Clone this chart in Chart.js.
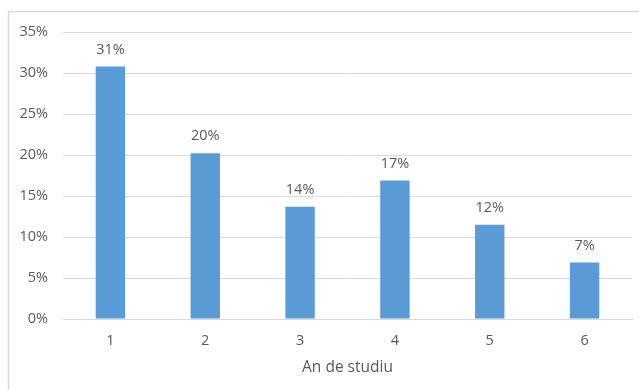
<!DOCTYPE html>
<html>
<head>
<meta charset="utf-8">
<script src="https://cdn.jsdelivr.net/npm/chart.js@4"></script>
<style>
  html, body { margin: 0; padding: 0; background: #fff; }
  #wrap { width: 639px; height: 390px; position: relative; }
</style>
</head>
<body>
<div id="wrap"><canvas id="c" width="639" height="390"></canvas></div>
<script>
const categories = ["1", "2", "3", "4", "5", "6"];
const values = [30.8, 20.2, 13.7, 16.9, 11.5, 6.9];
const valueLabels = ["31%", "20%", "14%", "17%", "12%", "7%"];
const yTicks = [0, 5, 10, 15, 20, 25, 30, 35];
const axisTitle = "An de studiu";

const FONT = "'Open Sans', sans-serif";
const TEXT = "#595959";
const GRID = "#D9D9D9";

const frame = {
  id: "frame",
  beforeDraw(chart) {
    const ctx = chart.ctx;
    ctx.save();
    ctx.strokeStyle = GRID;
    ctx.lineWidth = 1.5;
    ctx.beginPath();
    ctx.moveTo(8.5, 390);
    ctx.lineTo(8.5, 11.5);
    ctx.lineTo(639, 11.5);
    ctx.stroke();
    ctx.restore();
  }
};

const barLabels = {
  id: "barLabels",
  afterDatasetsDraw(chart) {
    const ctx = chart.ctx;
    const meta = chart.getDatasetMeta(0);
    ctx.save();
    ctx.fillStyle = TEXT;
    ctx.font = "14.5px " + FONT;
    ctx.textAlign = "center";
    ctx.textBaseline = "middle";
    meta.data.forEach((bar, i) => {
      ctx.fillText(valueLabels[i], bar.x, bar.y - 17);
    });
    ctx.restore();
  }
};

new Chart(document.getElementById("c"), {
  type: "bar",
  data: {
    labels: categories,
    datasets: [{
      data: values,
      backgroundColor: "#5B9BD5",
      borderWidth: 0,
      barPercentage: 0.31,
      categoryPercentage: 1.0
    }]
  },
  options: {
    responsive: false,
    animation: false,
    layout: { padding: { left: 0, right: 7, top: 32, bottom: 0 } },
    plugins: {
      legend: { display: false },
      tooltip: { enabled: false }
    },
    scales: {
      x: {
        grid: { display: false, drawTicks: false },
        border: { display: true, color: GRID, width: 1 },
        ticks: { color: TEXT, font: { family: FONT, size: 14.5 }, padding: 13 },
        title: {
          display: true,
          text: axisTitle,
          color: TEXT,
          font: { family: FONT, size: 15.5 },
          padding: { top: 0, bottom: 13 }
        },
        afterFit(scale) { scale.height = 71; }
      },
      y: {
        min: 0,
        max: 35,
        afterBuildTicks(scale) { scale.ticks = yTicks.map(v => ({ value: v })); },
        grid: { color: GRID, drawTicks: false, lineWidth: 1 },
        border: { display: false },
        ticks: {
          color: TEXT,
          font: { family: FONT, size: 14.5 },
          padding: 15,
          callback: v => v + "%"
        },
        afterFit(scale) { scale.width = 63; }
      }
    }
  },
  plugins: [frame, barLabels]
});
</script>
</body>
</html>
